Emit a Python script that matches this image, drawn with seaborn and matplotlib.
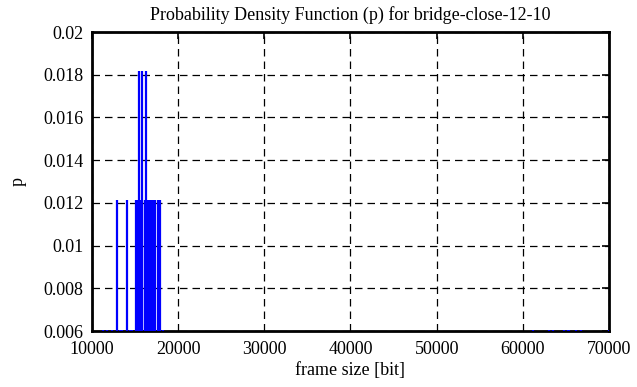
import numpy as np
import pandas as pd
import seaborn as sns
import matplotlib
matplotlib.use("Agg")
import matplotlib.pyplot as plt

# frame sizes [bit] and their probabilities (count / 165)
frame_size_tall = [15400, 15750, 16280]
p_tall = [0.01818, 0.01818, 0.01818]

frame_size_mid = [12870, 14035, 15150, 15300, 15500, 15650, 15850,
                  16100, 16450, 16600, 16800, 17050, 17330, 17630, 17900]
p_mid = [0.01212] * len(frame_size_mid)

frame_size_low = [11250, 11700, 12300, 13200, 13500, 14400, 14700, 16950,
                  18200, 61130, 63060, 63450, 64800, 65190, 65380, 66160,
                  66740, 69950]
p_low = [0.00606] * len(frame_size_low)

x_ticks = [10000, 20000, 30000, 40000, 50000, 60000, 70000]
y_ticks = [0.006, 0.008, 0.01, 0.012, 0.014, 0.016, 0.018, 0.02]
y_tick_labels = ['0.006', '0.008', '0.01', '0.012', '0.014', '0.016', '0.018', '0.02']

df = pd.DataFrame({
    'frame_size': frame_size_tall + frame_size_mid + frame_size_low,
    'p': p_tall + p_mid + p_low,
})

sns.set_theme(style="white")
plt.rcParams['font.family'] = ['Liberation Serif', 'DejaVu Serif']

fig = plt.figure(figsize=(6.37, 3.87), dpi=100)
ax = fig.add_axes([0.1444, 0.1447, 0.8116, 0.7726])

# impulses from the bottom of the plot up to p
ax.vlines(df['frame_size'], 0, df['p'], color='#0000ff', linewidth=1.6, zorder=3)

ax.set_xlim(10000, 70000)
ax.set_ylim(0.006, 0.02)
ax.set_xticks(x_ticks)
ax.set_xticklabels([str(t) for t in x_ticks])
ax.set_yticks(y_ticks)
ax.set_yticklabels(y_tick_labels)

ax.grid(True, color='black', linestyle=(0, (6, 4)), linewidth=0.9)
ax.tick_params(axis='both', direction='in', length=5, width=1.2,
               top=True, right=True, labelsize=13, colors='black')
ax.tick_params(axis='x', pad=7)
ax.tick_params(axis='y', pad=6)
for s in ax.spines.values():
    s.set_color('black')
    s.set_linewidth(2)

ax.set_xlabel('frame size [bit]', fontsize=13, color='black', labelpad=3)
ax.set_ylabel('p', fontsize=13, color='black', labelpad=12)
ax.set_title('Probability Density Function (p) for bridge-close-12-10',
             fontsize=13, color='black', pad=9)

fig.savefig('out.png', dpi=100)
